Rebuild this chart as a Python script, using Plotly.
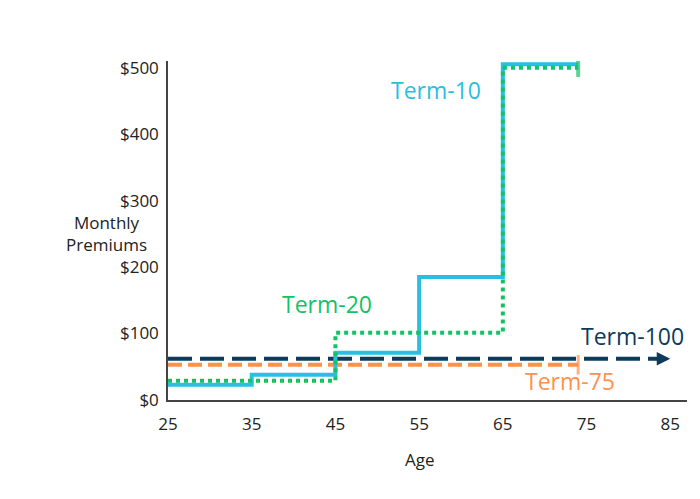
import plotly.graph_objects as go

# step breakpoints (age) and monthly premium ($)
term10_age = [25, 35, 45, 55, 65, 74]
term10_prem = [23, 38, 71, 185, 505, 505]
term20_age = [25, 45, 65, 74]
term20_prem = [29, 101, 500, 500]
term75_age = [25, 74]
term75_prem = [53, 53]
term100_age = [25, 84]
term100_prem = [62, 62]

x_ticks = [25, 35, 45, 55, 65, 75, 85]
y_ticks = [0, 100, 200, 300, 400, 500]
y_labels = ["$0", "$100", "$200", "$300", "$400", "$500"]

navy = "#0d3b5c"
cyan = "#29bfe0"
green = "#14c264"
orange = "#ff914d"
font = "Open Sans"

fig = go.Figure()
fig.add_trace(go.Scatter(x=term100_age, y=term100_prem, mode="lines",
                         line=dict(color=navy, width=4, dash="24px,8px")))
fig.add_trace(go.Scatter(x=term75_age, y=term75_prem, mode="lines+markers",
                         line=dict(color=orange, width=4, dash="14px,6px"),
                         marker=dict(symbol="line-ns", size=[0, 14],
                                     line=dict(color=orange, width=3))))
fig.add_trace(go.Scatter(x=term10_age, y=term10_prem, mode="lines+markers", line_shape="hv",
                         line=dict(color=cyan, width=4),
                         marker=dict(symbol="line-ns", size=[0] * 5 + [18],
                                     line=dict(color=green, width=4))))
fig.add_trace(go.Scatter(x=term20_age, y=term20_prem, mode="lines", line_shape="hv",
                         line=dict(color=green, width=4, dash="dot")))

# arrowhead for Term-100
fig.add_annotation(x=term100_age[-1] + 1, y=term100_prem[-1], ax=term100_age[-1] - 1,
                   ay=term100_prem[-1], xref="x", yref="y", axref="x", ayref="y",
                   text="", showarrow=True, arrowhead=2, arrowsize=0.9, arrowwidth=3,
                   arrowcolor=navy)

labels = [
    ("Term-10", 57, 467, cyan),
    ("Term-20", 44, 144, green),
    ("Term-100", 80.5, 96, navy),
    ("Term-75", 73, 28, orange),
]
for txt, x, y, c in labels:
    fig.add_annotation(x=x, y=y, text=txt, showarrow=False,
                       font=dict(color=c, size=23, family=font))

fig.add_annotation(x=-0.2, y=0.49, xref="paper", yref="paper", text="Monthly<br>Premiums",
                   showarrow=False, font=dict(size=17, color="#222", family=font), align="center")
fig.add_annotation(x=0.485, y=-0.215, xref="paper", yref="paper", text="Age",
                   showarrow=False, font=dict(size=17, color="#222", family=font))

fig.update_layout(
    width=700, height=499, showlegend=False,
    plot_bgcolor="white", paper_bgcolor="white",
    margin=dict(l=160, r=21, t=53, b=107),
    font=dict(family=font, size=17, color="#222"),
)
fig.update_xaxes(range=[25, 87], tickvals=x_ticks, showgrid=False, zeroline=False,
                 showline=True, linecolor="#444", linewidth=1.5, ticks="", ticklabelstandoff=8)
fig.update_yaxes(range=[0, 510], tickvals=y_ticks, ticktext=y_labels, showgrid=False,
                 zeroline=False, showline=True, linecolor="#444", linewidth=1.5, ticks="",
                 ticklabelstandoff=4)

fig.write_html("out.html")
